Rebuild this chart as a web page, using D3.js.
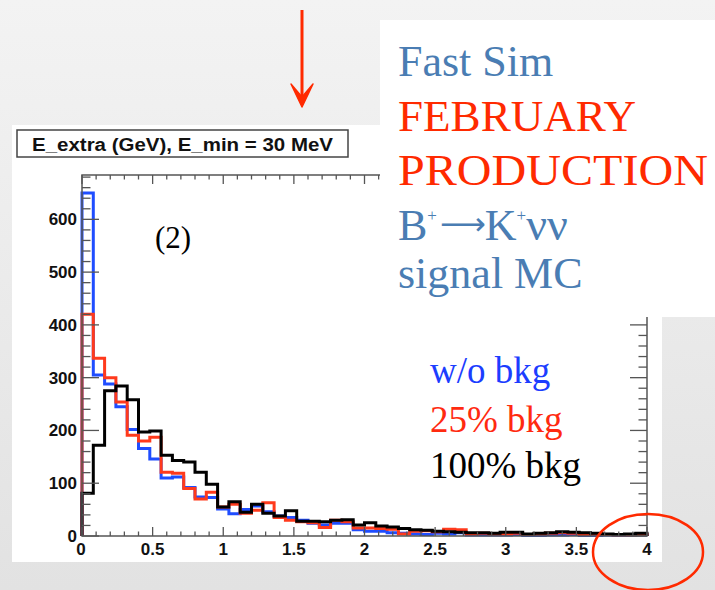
<!DOCTYPE html>
<html>
<head>
<meta charset="utf-8">
<title>E_extra histogram</title>
<script src="https://cdn.jsdelivr.net/npm/d3@7/dist/d3.min.js"></script>
<style>
  body { margin: 0; }
  .serif { font-family: "Liberation Serif", "DejaVu Serif", serif; }
  .sans { font-family: "Liberation Sans", Arial, sans-serif; font-weight: bold; }
</style>
</head>
<body>
<script>
// bins of 0.08 GeV from 0 to 4
var binWidth = 0.08;
var noBkg = [650, 305, 288, 245, 202, 166, 146, 110, 112, 92, 74, 73, 51, 42, 50, 57, 46, 38, 35, 30, 24, 21, 24, 24, 12, 9, 9, 6, 5, 4,
             3, 5, 4, 6, 2, 2, 2, 2, 3, 1, 1, 2, 2, 3, 1, 1, 2, 1, 1, 2];
var bkg25 = [420, 337, 300, 254, 191, 180, 187, 121, 119, 90, 70, 83, 55, 60, 43, 49, 63, 35, 30, 27, 25, 16, 30, 27, 15, 15, 14, 13, 4, 9,
             10, 8, 13, 12, 4, 5, 4, 4, 5, 3, 4, 5, 6, 5, 3, 4, 3, 2, 2, 3];
var bkg100 = [81, 172, 275, 284, 258, 197, 199, 153, 143, 140, 121, 98, 55, 65, 45, 60, 43, 38, 48, 28, 28, 27, 30, 31, 21, 25, 19, 17, 14, 12,
              11, 9, 8, 7, 6, 6, 5, 7, 7, 4, 5, 6, 8, 7, 6, 5, 4, 3, 4, 5];
var xTicks = [0, 0.5, 1, 1.5, 2, 2.5, 3, 3.5, 4];
var yTicks = [0, 100, 200, 300, 400, 500, 600];
var seriesColors = ["#1f4dff", "#ff3a1c", "#000000"];
var legendLabels = ["w/o bkg", "25% bkg", "100% bkg"];
var legendColors = ["#1c3dff", "#ff2a10", "#000000"];

var W = 715, H = 590;
var svg = d3.select("body").append("svg").attr("width", W).attr("height", H);

// slide background
var grad = svg.append("defs").append("linearGradient").attr("id", "bg")
  .attr("x1", 0).attr("y1", 0).attr("x2", 0).attr("y2", 1);
grad.append("stop").attr("offset", "0%").attr("stop-color", "#f3f3f3");
grad.append("stop").attr("offset", "100%").attr("stop-color", "#e2e2e2");
svg.append("rect").attr("width", W).attr("height", H).attr("fill", "url(#bg)");

// ROOT canvas
svg.append("rect").attr("x", 12).attr("y", 125).attr("width", 650).attr("height", 437).attr("fill", "#fff");

var x = d3.scaleLinear().domain([0, 4]).range([82, 647]);
var y = d3.scaleLinear().domain([0, 684]).range([536, 175]);

// histograms
var line = d3.line().x(d => x(d[0])).y(d => y(d[1])).curve(d3.curveStepAfter);
function pts(vals) {
  var p = [[0, 0]];
  vals.forEach((v, i) => p.push([i * binWidth, v]));
  p.push([4, 0]);
  return p;
}
[noBkg, bkg25, bkg100].forEach(function (vals, i) {
  svg.append("path").attr("d", line(pts(vals)))
    .attr("fill", "none").attr("stroke", seriesColors[i]).attr("stroke-width", 3)
    .attr("stroke-linejoin", "miter");
});

// frame and ticks
var axisCol = "#555";
var g = svg.append("g").attr("stroke", axisCol).attr("stroke-width", 1.3);
g.append("rect").attr("x", x(0)).attr("y", y(684)).attr("width", x(4) - x(0)).attr("height", y(0) - y(684))
  .attr("fill", "none").attr("stroke-width", 1.5);
var xMinor = d3.range(0, 41).map(d => d / 10);
xMinor.forEach(function (t) {
  var len = (Math.round(t * 10) % 5 === 0) ? 9 : 4.5;
  g.append("line").attr("x1", x(t)).attr("x2", x(t)).attr("y1", y(0)).attr("y2", y(0) - len);
  g.append("line").attr("x1", x(t)).attr("x2", x(t)).attr("y1", y(684)).attr("y2", y(684) + len);
});
var yMinor = d3.range(0, 35).map(d => d * 20);
yMinor.forEach(function (t) {
  var len = (t % 100 === 0) ? 17 : 8.5;
  g.append("line").attr("x1", x(0)).attr("x2", x(0) + len).attr("y1", y(t)).attr("y2", y(t));
  g.append("line").attr("x1", x(4)).attr("x2", x(4) - len).attr("y1", y(t)).attr("y2", y(t));
});

// tick labels
svg.selectAll(".xl").data(xTicks).enter().append("text").attr("class", "sans")
  .attr("x", d => x(d) - (d === 0 ? 1 : 0)).attr("y", 555).attr("text-anchor", "middle")
  .attr("font-size", 17).attr("fill", "#111").text(d => d);
svg.selectAll(".yl").data(yTicks).enter().append("text").attr("class", "sans")
  .attr("x", 77).attr("y", d => y(d) + 6).attr("text-anchor", "end")
  .attr("font-size", 17).attr("fill", "#111").text(d => d);

// title box
svg.append("rect").attr("x", 17).attr("y", 130).attr("width", 331).attr("height", 27)
  .attr("fill", "#fff").attr("stroke", "#444").attr("stroke-width", 1.5);
svg.append("text").attr("class", "sans").attr("x", 32).attr("y", 150.5)
  .attr("font-size", 17.5).attr("fill", "#111")
  .attr("textLength", 301).attr("lengthAdjust", "spacingAndGlyphs")
  .text("E_extra (GeV), E_min = 30 MeV");

svg.append("text").attr("class", "serif").attr("x", 155).attr("y", 248)
  .attr("font-size", 31).attr("fill", "#000").text("(2)");

// text panel
svg.append("rect").attr("x", 380).attr("y", 20).attr("width", 335).attr("height", 297).attr("fill", "#fff");
var steel = "#4a7db3", red = "#ff2a00";
var tx = 398;
svg.append("text").attr("class", "serif").attr("x", tx).attr("y", 76).attr("font-size", 44).attr("fill", steel).text("Fast Sim");
svg.append("text").attr("class", "serif").attr("x", tx).attr("y", 131).attr("font-size", 44).attr("fill", red)
  .attr("textLength", 238).attr("lengthAdjust", "spacingAndGlyphs").text("FEBRUARY");
svg.append("text").attr("class", "serif").attr("x", tx).attr("y", 185).attr("font-size", 44).attr("fill", red)
  .attr("textLength", 310).attr("lengthAdjust", "spacingAndGlyphs").text("PRODUCTION");
var bk = svg.append("text").attr("class", "serif").attr("x", tx).attr("y", 240).attr("font-size", 44).attr("fill", steel);
bk.append("tspan").text("B");
bk.append("tspan").attr("font-size", 17).attr("dy", -19).text("+");
bk.append("tspan").attr("font-family", "DejaVu Sans").attr("font-size", 32).attr("dy", 14).attr("dx", 3).text("\u27f6");
bk.append("tspan").attr("dy", 5).attr("dx", -1).text("K");
bk.append("tspan").attr("font-size", 17).attr("dy", -19).text("+");
bk.append("tspan").attr("dy", 19).attr("font-size", 46).text("\u03bd\u03bd");
svg.append("text").attr("class", "serif").attr("x", tx).attr("y", 288).attr("font-size", 44).attr("fill", steel).text("signal MC");

// legend
var legY = [383, 432, 478];
legendLabels.forEach(function (t, i) {
  svg.append("text").attr("class", "serif").attr("x", 430).attr("y", legY[i]).attr("font-size", 37)
    .attr("fill", legendColors[i]).text(t);
});

// annotations
svg.append("line").attr("x1", 302).attr("x2", 302).attr("y1", 10).attr("y2", 100)
  .attr("stroke", red).attr("stroke-width", 3);
svg.append("path").attr("d", "M291,84 L302,107 L313,84 L302,97 Z").attr("fill", red)
  .attr("stroke", red).attr("stroke-width", 1.5).attr("stroke-linejoin", "round");
svg.append("ellipse").attr("cx", 648).attr("cy", 552).attr("rx", 55).attr("ry", 38)
  .attr("fill", "none").attr("stroke", red).attr("stroke-width", 2.5);
</script>
</body>
</html>
